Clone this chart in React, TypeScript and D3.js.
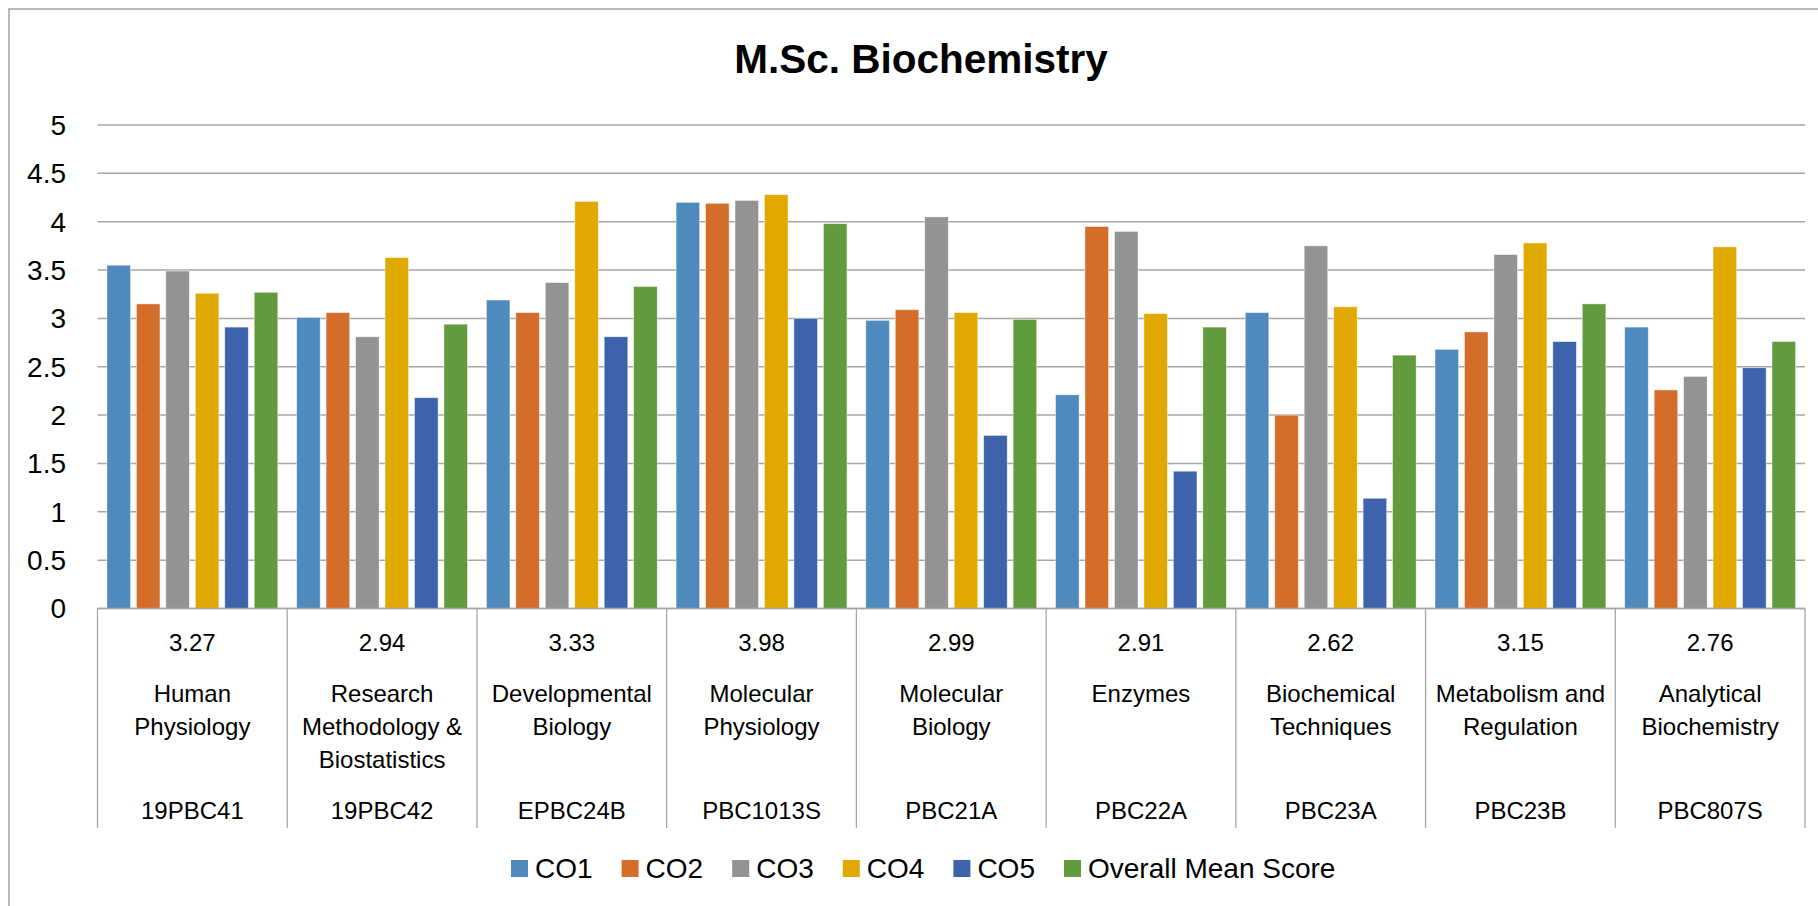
import React from "react";
import * as d3 from "d3";

const courseCodes = ["19PBC41", "19PBC42", "EPBC24B", "PBC1013S", "PBC21A", "PBC22A", "PBC23A", "PBC23B", "PBC807S"];
const courseNames = [
  "Human\nPhysiology",
  "Research\nMethodology &\nBiostatistics",
  "Developmental\nBiology",
  "Molecular\nPhysiology",
  "Molecular\nBiology",
  "Enzymes",
  "Biochemical\nTechniques",
  "Metabolism and\nRegulation",
  "Analytical\nBiochemistry",
];
const seriesNames = ["CO1", "CO2", "CO3", "CO4", "CO5", "Overall Mean Score"];
const co1 = [3.55, 3.01, 3.19, 4.2, 2.98, 2.21, 3.06, 2.68, 2.91];
const co2 = [3.15, 3.06, 3.06, 4.19, 3.09, 3.95, 2.0, 2.86, 2.26];
const co3 = [3.49, 2.81, 3.37, 4.22, 4.05, 3.9, 3.75, 3.66, 2.4];
const co4 = [3.26, 3.63, 4.21, 4.28, 3.06, 3.05, 3.12, 3.78, 3.74];
const co5 = [2.91, 2.18, 2.81, 3.0, 1.79, 1.42, 1.14, 2.76, 2.49];
const overallMean = [3.27, 2.94, 3.33, 3.98, 2.99, 2.91, 2.62, 3.15, 2.76];
const yTicks = [0, 0.5, 1, 1.5, 2, 2.5, 3, 3.5, 4, 4.5, 5];
const seriesColors = ["#4F8ABE", "#D46D2A", "#939393", "#E1A900", "#3C63AC", "#629A3E"];

const W = 1818;
const H = 906;
const FONT = "'Liberation Sans', Arial, sans-serif";

export default function App() {
  const seriesValues = [co1, co2, co3, co4, co5, overallMean];
  const plotLeft = 97.5;
  const plotRight = 1805;
  const plotTop = 125;
  const plotBottom = 608.5;

  const x0 = d3.scaleBand<string>().domain(courseCodes).range([plotLeft, plotRight]).padding(0);
  const catW = x0.bandwidth();
  const barW = catW / 8.05;
  const x1 = d3
    .scaleBand<string>()
    .domain(seriesNames)
    .range([0.4 * barW, catW - 0.4 * barW])
    .paddingInner(0.2)
    .paddingOuter(0);
  const y = d3.scaleLinear().domain([0, 5]).range([plotBottom, plotTop]);

  const gridColor = "#A6A6A6";
  const labelTop = 643;
  const lineH = 32.7;

  const legendStart = 511;
  const legendStep = 110.6;
  const legendY = 868.5;

  return (
    <svg
      width={W}
      height={H}
      style={{ position: "absolute", left: 0, top: 0, background: "#fff" }}
      fontFamily={FONT}
    >
      <rect x={0} y={0} width={W} height={H} fill="#fff" />
      <rect x={9} y={9} width={1840} height={920} fill="none" stroke="#8C8C8C" strokeWidth={1.2} />

      <text x={921} y={73} textAnchor="middle" fontSize={40.5} fontWeight="bold" fill="#000">
        M.Sc. Biochemistry
      </text>

      {yTicks.map((t) => (
        <g key={t}>
          <line x1={plotLeft} x2={plotRight} y1={y(t)} y2={y(t)} stroke={gridColor} strokeWidth={1.5} />
          <text x={66} y={y(t)} dy="0.35em" textAnchor="end" fontSize={28} fill="#000">
            {String(t)}
          </text>
        </g>
      ))}

      {seriesValues.map((vals, si) =>
        vals.map((v, ci) => (
          <rect
            key={`${si}-${ci}`}
            x={(x0(courseCodes[ci]) as number) + (x1(seriesNames[si]) as number)}
            y={y(v)}
            width={x1.bandwidth()}
            height={y(0) - y(v)}
            fill={seriesColors[si]}
            stroke="#ffffff"
            strokeOpacity={0.55}
            strokeWidth={0.8}
          />
        ))
      )}

      <line x1={plotLeft} x2={plotRight} y1={y(0)} y2={y(0)} stroke={gridColor} strokeWidth={1.5} />

      {courseCodes.concat(["__end"]).map((c, i) => {
        const xx = i < courseCodes.length ? (x0(c) as number) : plotRight;
        return <line key={c} x1={xx} x2={xx} y1={y(0)} y2={828} stroke={gridColor} strokeWidth={1.3} />;
      })}

      {courseCodes.map((c, i) => {
        const cx = (x0(c) as number) + catW / 2;
        const lines = courseNames[i].split("\n");
        return (
          <g key={c} fontSize={24} fill="#000" textAnchor="middle">
            <text x={cx} y={labelTop} dy="0.35em">
              {overallMean[i].toFixed(2)}
            </text>
            {lines.map((ln, li) => (
              <text key={li} x={cx} y={labelTop + 51 + li * lineH} dy="0.35em">
                {ln}
              </text>
            ))}
            <text x={cx} y={811} dy="0.35em">
              {c}
            </text>
          </g>
        );
      })}

      {seriesNames.map((s, i) => {
        const lx = legendStart + i * legendStep;
        return (
          <g key={s}>
            <rect x={lx} y={legendY - 8.5} width={17} height={17} fill={seriesColors[i]} />
            <text x={lx + 24} y={legendY} dy="0.35em" fontSize={28} fill="#000">
              {s}
            </text>
          </g>
        );
      })}
    </svg>
  );
}
